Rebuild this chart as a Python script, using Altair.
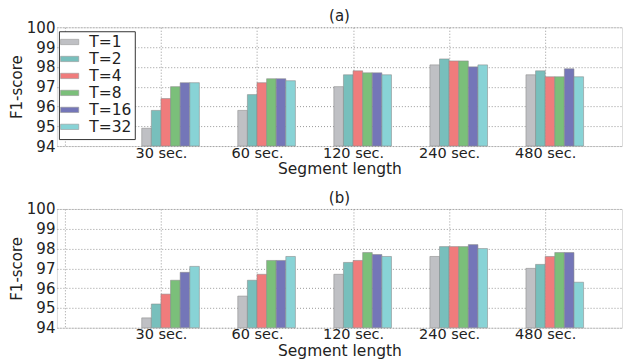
import altair as alt
import pandas as pd

segments = ["30 sec.", "60 sec.", "120 sec.", "240 sec.", "480 sec."]
series = ["T=1", "T=2", "T=4", "T=8", "T=16", "T=32"]
colors = ["#bfc0c4", "#78bfbc", "#f07c7c", "#7bbf7a", "#7476b8", "#88d3d6"]

# values[series][segment]
values_a = {
    "T=1": [94.9, 95.8, 97.0, 98.1, 97.6],
    "T=2": [95.8, 96.6, 97.6, 98.4, 97.8],
    "T=4": [96.4, 97.2, 97.8, 98.3, 97.5],
    "T=8": [97.0, 97.4, 97.7, 98.3, 97.5],
    "T=16": [97.2, 97.4, 97.7, 98.0, 97.9],
    "T=32": [97.2, 97.3, 97.6, 98.1, 97.5],
}
values_b = {
    "T=1": [94.5, 95.6, 96.7, 97.6, 97.0],
    "T=2": [95.2, 96.4, 97.3, 98.1, 97.2],
    "T=4": [95.7, 96.7, 97.4, 98.1, 97.6],
    "T=8": [96.4, 97.4, 97.8, 98.1, 97.8],
    "T=16": [96.8, 97.4, 97.7, 98.2, 97.8],
    "T=32": [97.1, 97.6, 97.6, 98.0, 96.3],
}
y_ticks = [94, 95, 96, 97, 98, 99, 100]

FONT = "DejaVu Sans"


def make_df(values):
    rows = []
    for si, s in enumerate(series):
        for gi, seg in enumerate(segments):
            rows.append({"segment": seg, "T": s, "gi": gi + 1, "si": si,
                         "value": values[s][gi]})
    return pd.DataFrame(rows)


label_expr = ("datum.value == 1 ? '30 sec.' : datum.value == 2 ? '60 sec.' : "
              "datum.value == 3 ? '120 sec.' : datum.value == 4 ? '240 sec.' : "
              "datum.value == 5 ? '480 sec.' : ''")


def panel(values, title, show_legend):
    df = make_df(values)
    if show_legend:
        legend = alt.Legend(
            title=None, orient="none", legendX=2, legendY=4,
            labelFont=FONT, labelFontSize=15.5, labelColor="#222",
            symbolType="M-1.3,-0.38H1.3V0.38H-1.3Z", symbolSize=196,
            symbolStrokeColor="#999", symbolStrokeWidth=0.6,
            strokeColor="#333", fillColor="white", padding=3,
            rowPadding=0, labelOffset=12, offset=0,
        )
    else:
        legend = None
    chart = alt.Chart(df).transform_calculate(
        x0="datum.gi - 0.2 + 0.1 * datum.si",
        x1="datum.gi - 0.1 + 0.1 * datum.si",
    ).mark_bar(stroke="#8a8a8a", strokeWidth=0.8, strokeOpacity=0.7).encode(
        x=alt.X("x0:Q",
                scale=alt.Scale(domain=[-0.083, 5.8], nice=False, zero=False),
                axis=alt.Axis(values=[0, 1, 2, 3, 4, 5], labelExpr=label_expr,
                              title="Segment length", ticks=False,
                              labelFont=FONT, labelFontSize=14.5, labelColor="#222",
                              titleFont=FONT, titleFontSize=15.5, titleColor="#222",
                              titleFontWeight="normal", labelPadding=0, titlePadding=2,
                              grid=True, gridColor="#999", gridDash=[1, 2],
                              domain=False)),
        x2="x1:Q",
        y=alt.Y("value:Q",
                scale=alt.Scale(domain=[94, 100], nice=False, zero=False),
                axis=alt.Axis(values=y_ticks, title="F1-score", ticks=False,
                              labelFont=FONT, labelFontSize=15, labelColor="#222",
                              titleFont=FONT, titleFontSize=15, titleColor="#222",
                              titleFontWeight="normal", labelPadding=2, titlePadding=2,
                              grid=True, gridColor="#999", gridDash=[1, 2],
                              domain=False)),
        y2=alt.datum(94),
        color=alt.Color("T:N", scale=alt.Scale(domain=series, range=colors),
                        sort=series, legend=legend),
    ).properties(
        width=566, height=119,
        title=alt.TitleParams(title, font=FONT, fontSize=15, fontWeight="normal",
                              color="#222", offset=-4),
    )
    return chart


top = panel(values_a, "(a)", True)
bottom = panel(values_b, "(b)", False)

chart = alt.vconcat(top, bottom, spacing=12).properties(
    padding={"left": 0, "top": 0, "right": 0, "bottom": 0}
).configure_view(stroke="#444", strokeWidth=1.2).configure(background="white")

chart.save("out.html", embed_options={"renderer": "svg", "actions": False})
